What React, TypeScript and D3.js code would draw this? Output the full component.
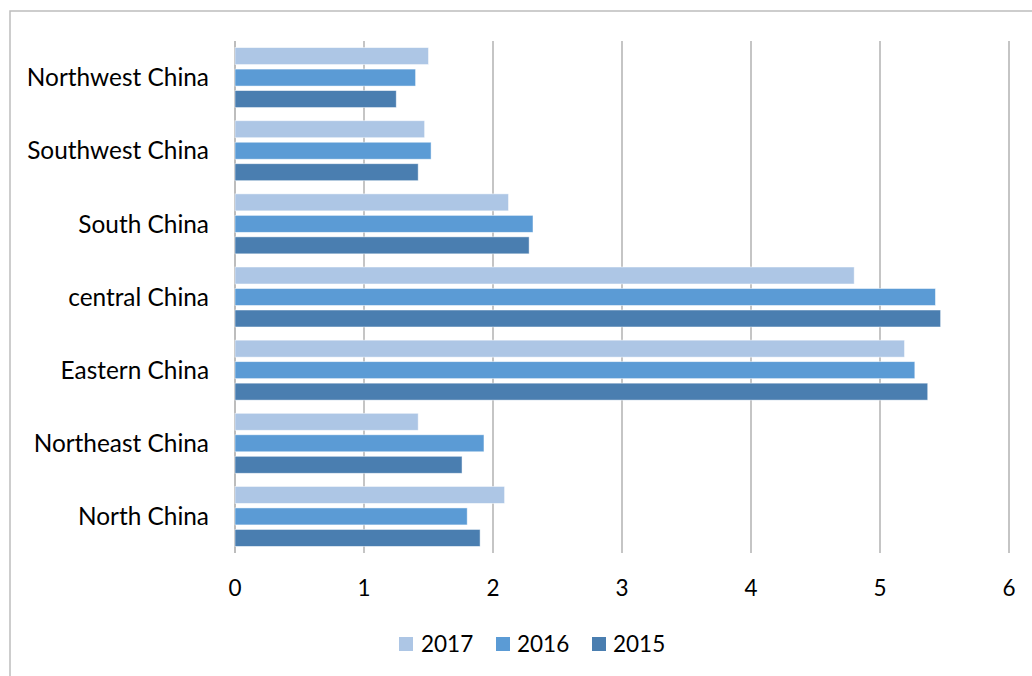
import React from "react";
import * as d3 from "d3";

const categories = [
  "Northwest China",
  "Southwest China",
  "South China",
  "central China",
  "Eastern China",
  "Northeast China",
  "North China",
];
const seriesNames = ["2017", "2016", "2015"];
const values2017 = [1.5, 1.47, 2.12, 4.8, 5.19, 1.42, 2.09];
const values2016 = [1.4, 1.52, 2.31, 5.43, 5.27, 1.93, 1.8];
const values2015 = [1.25, 1.42, 2.28, 5.47, 5.37, 1.76, 1.9];
const xTicks = [0, 1, 2, 3, 4, 5, 6];
const colors = ["#ADC6E5", "#5B9BD5", "#4A7EB0"];

const W = 1032;
const H = 676;
const FONT = "Lato, 'Open Sans', sans-serif";

export default function App() {
  const seriesValues = [values2017, values2016, values2015];
  const x = d3.scaleLinear().domain([0, 6]).range([235, 1009]);
  const y = d3
    .scaleBand<string>()
    .domain(categories)
    .range([41, 553])
    .paddingInner(0.18)
    .paddingOuter(0.09);
  const inner = d3
    .scaleBand<string>()
    .domain(seriesNames)
    .range([0, y.bandwidth()])
    .paddingInner(0.21)
    .paddingOuter(0);

  const legendItems = [
    { name: "2017", sx: 399, tx: 421 },
    { name: "2016", sx: 496, tx: 517 },
    { name: "2015", sx: 592, tx: 613 },
  ];

  return (
    <svg
      width={W}
      height={H}
      style={{ position: "absolute", left: 0, top: 0, background: "#fff" }}
      fontFamily={FONT}
    >
      <rect x={0} y={0} width={W} height={H} fill="#fff" />
      <rect
        x={10}
        y={11}
        width={W + 20}
        height={H + 20}
        fill="none"
        stroke="#BDBDBD"
        strokeWidth={1.5}
      />
      {xTicks.map((t) => (
        <line
          key={"g" + t}
          x1={x(t)}
          x2={x(t)}
          y1={41}
          y2={553}
          stroke={t === 0 ? "#9A9A9A" : "#A6A6A6"}
          strokeWidth={1.3}
        />
      ))}
      {categories.map((c, ci) => (
        <g key={c} transform={`translate(0,${y(c)})`}>
          {seriesNames.map((s, si) => (
            <rect
              key={s}
              x={x(0)}
              y={inner(s)}
              width={x(seriesValues[si][ci]) - x(0)}
              height={inner.bandwidth()}
              fill={colors[si]}
              stroke="#ffffff"
              strokeOpacity={0.6}
              strokeWidth={0.8}
            />
          ))}
        </g>
      ))}
      {categories.map((c) => (
        <text
          key={"l" + c}
          x={209}
          y={(y(c) as number) + y.bandwidth() / 2}
          dy="0.36em"
          textAnchor="end"
          fontSize={24.4}
          fill="#000"
        >
          {c}
        </text>
      ))}
      {xTicks.map((t) => (
        <text
          key={"t" + t}
          x={x(t)}
          y={596}
          textAnchor="middle"
          fontSize={22.5}
          fill="#000"
        >
          {t}
        </text>
      ))}
      {legendItems.map((l, i) => (
        <g key={l.name}>
          <rect x={l.sx} y={637} width={14} height={14} fill={colors[i]} />
          <text x={l.tx} y={652} fontSize={22.5} fill="#000">
            {l.name}
          </text>
        </g>
      ))}
    </svg>
  );
}
